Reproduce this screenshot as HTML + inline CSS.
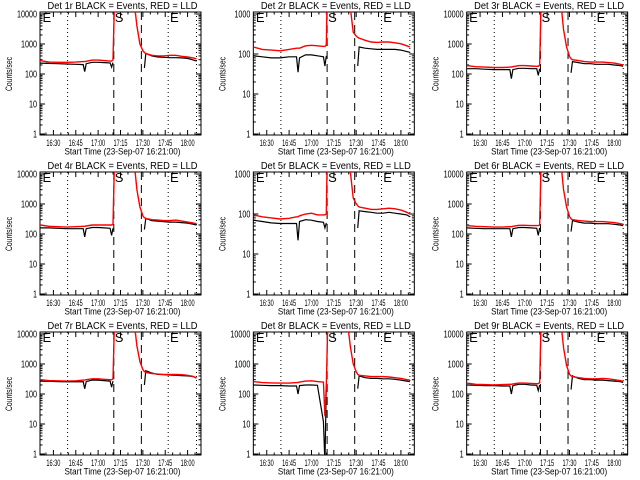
<!DOCTYPE html>
<html><head><meta charset="utf-8"><style>
html,body{margin:0;padding:0;background:#fff;}
svg{display:block;font-family:"Liberation Sans",sans-serif;}
</style></head><body>
<svg id="chart" width="640" height="480" viewBox="0 0 640 480" xmlns="http://www.w3.org/2000/svg"></svg>
<script>
// minutes after 16:00
const times = [21,27,33,39,45,50,51,52,56,60,64,68,69,70,71,80,84,86,88,90,91,92,96,100,104,108,112,116,120,124,126];
const detNames = ["1r","2r","3r","4r","5r","6r","7r","8r","9r"];
const yTopDecade = [4,3,4,4,3,4,4,4,4];
const N = null;
const black1 = [230,225,220,215,210,205,120,220,245,245,240,235,170,240,N,N,N,N,N,N,160,480,400,370,360,350,350,345,330,290,270];
const red1   = [280,250,245,245,250,260,260,265,290,290,280,270,270,300,30000,30000,30000,4000,1000,600,520,480,420,400,400,420,420,390,370,340,320];
const black2 = [90,85,80,80,85,85,35,80,95,95,90,85,50,90,N,N,N,N,N,N,50,150,140,135,130,130,130,130,125,115,110];
const red2   = [150,130,125,120,130,140,140,140,160,165,160,155,155,170,30000,30000,30000,1500,350,280,260,250,220,200,195,200,200,190,180,160,150];
const black3 = [150,150,145,140,140,140,70,140,155,155,150,150,90,150,N,N,N,N,N,N,110,260,240,220,220,210,210,210,200,190,180];
const red3   = [190,175,170,165,165,170,170,175,190,190,185,180,180,200,30000,30000,30000,3000,800,380,320,300,280,260,250,250,250,240,230,210,200];
const black4 = [160,160,155,150,150,150,80,150,165,165,160,155,90,155,N,N,N,N,N,N,140,330,280,270,260,250,250,240,230,210,200];
const red4   = [200,180,175,170,175,180,180,185,200,200,200,200,200,210,30000,30000,30000,3000,800,400,350,330,300,290,280,280,290,270,250,230,220];
const black5 = [70,65,60,58,58,58,22,65,72,70,65,62,45,60,N,N,N,N,N,N,45,120,115,110,105,105,110,105,100,95,85];
const red5   = [95,85,80,75,78,85,85,90,100,105,95,95,95,100,30000,30000,30000,1200,250,180,160,150,140,130,130,135,140,135,125,110,100];
const black6 = [160,155,150,150,150,150,80,150,165,165,160,155,90,160,N,N,N,N,N,N,120,280,250,230,230,220,220,220,210,200,190];
const red6   = [190,180,175,170,170,175,175,180,195,195,190,190,190,200,30000,30000,30000,3000,800,380,320,300,280,270,260,260,260,250,240,220,210];
const black7 = [270,265,260,255,255,260,150,260,290,290,280,270,170,270,N,N,N,N,N,N,200,600,500,450,440,430,420,410,400,380,340];
const red7   = [300,280,275,270,275,290,290,300,320,320,310,300,300,320,30000,30000,30000,4000,1200,650,560,520,480,460,450,450,450,440,420,380,340];
const black8 = [200,195,190,190,185,185,100,190,200,200,195,12,0.5,200,N,N,N,N,N,N,150,400,350,330,330,320,320,310,290,270,260];
const red8   = [260,240,235,230,230,240,240,250,270,275,260,250,18,200,30000,30000,30000,4000,1000,550,450,420,400,380,380,380,370,350,330,300,290];
const black9 = [200,195,190,190,185,185,100,190,210,210,200,195,130,200,N,N,N,N,N,N,140,400,330,300,300,290,290,280,270,260,240];
const red9   = [230,210,205,200,205,210,210,215,230,230,225,220,220,240,30000,30000,30000,3500,900,450,400,380,350,330,320,320,330,320,300,280,260];
const blackSeries = [black1,black2,black3,black4,black5,black6,black7,black8,black9];
const redSeries = [red1,red2,red3,red4,red5,red6,red7,red8,red9];
const xTickMinutes = [30,45,60,75,90,105,120];
const xTickLabels = ["16:30","16:45","17:00","17:15","17:30","17:45","18:00"];
const dottedTimes = [39.5,107,126];
const dashedTimes = [70.5,89];
const markerTimes = [22,70.5,107.5];
const markerLabels = ["E","S","E"];

const NS = "http://www.w3.org/2000/svg";
const svg = document.getElementById("chart");
function mk(tag, attrs, parent){ const e=document.createElementNS(NS,tag); for(const k in attrs) e.setAttribute(k,attrs[k]); (parent||svg).appendChild(e); return e; }

const L=40, R=201, T=12, B=135, yBot=134, yTop=14, tMin=21, tMax=129;

for(let p=0;p<9;p++){
  const col=p%3, row=Math.floor(p/3);
  const g = mk("g",{transform:`translate(${(col*213.33).toFixed(2)},${row*160})`});
  
  
  const dec = yTopDecade[p];
  const xs = t => L + (t - tMin)/(tMax - tMin)*(R-L);
  const ys = v => yBot - Math.log10(Math.max(v,1e-3))/dec*(yBot-yTop);
  const clipId = "clip"+p;
  const cp = mk("clipPath",{id:clipId},g); mk("rect",{x:L,y:T,width:R-L,height:B-T},cp);

  const title = mk("text",{x:(L+R)/2+2,y:9,"text-anchor":"middle","font-size":"10.5",textLength:"150",lengthAdjust:"spacingAndGlyphs"},g);
  title.textContent = "Det "+detNames[p]+" BLACK = Events, RED = LLD";
  
  

  const fr = mk("rect",{x:L,y:T,width:R-L,height:B-T,fill:"none",stroke:"#000","stroke-width":"1"},g);
  
  

  for(let d=0; d<=dec; d++){
    const y = ys(Math.pow(10,d));
    mk("line",{x1:L,x2:L+5,y1:y,y2:y,stroke:"#000"},g);
    mk("line",{x1:R-5,x2:R,y1:y,y2:y,stroke:"#000"},g);
    const txt = String(Math.pow(10,d));
    const lb = mk("text",{x:L-3,y:y+3.5,"text-anchor":"end","font-size":"10",textLength:String(txt.length*4),lengthAdjust:"spacingAndGlyphs"},g);
    lb.textContent = txt;
    
    
    if(d<dec){ for(let m=2;m<=9;m++){ const ym=ys(m*Math.pow(10,d));
      mk("line",{x1:L,x2:L+2.5,y1:ym,y2:ym,stroke:"#000"},g);
      mk("line",{x1:R-2.5,x2:R,y1:ym,y2:ym,stroke:"#000"},g);} }
  }
  const yt = mk("text",{x:0,y:0,"text-anchor":"middle","font-size":"9.5",textLength:"34",lengthAdjust:"spacingAndGlyphs",transform:`translate(12,74) rotate(-90)`},g);
  yt.textContent="Counts/sec";
  
  

  for(let t=25;t<=125;t+=5){ const x=xs(t); const major = xTickMinutes.indexOf(t)>=0; const len=major?5:2.5;
    mk("line",{x1:x,x2:x,y1:B,y2:B-len,stroke:"#000"},g);
    mk("line",{x1:x,x2:x,y1:T,y2:T+len,stroke:"#000"},g); }
  xTickMinutes.forEach((t,i)=>{ const lb=mk("text",{x:xs(t),y:146,"text-anchor":"middle","font-size":"9.5",textLength:"14",lengthAdjust:"spacingAndGlyphs"},g);
    lb.textContent=xTickLabels[i];
    
     });
  const xt = mk("text",{x:(L+R)/2+2,y:154.5,"text-anchor":"middle","font-size":"9.5",textLength:"116",lengthAdjust:"spacingAndGlyphs"},g);
  xt.textContent="Start Time (23-Sep-07 16:21:00)";
  
  

  dottedTimes.forEach(t=>{ const l=mk("line",{x1:xs(t),x2:xs(t),y1:T,y2:B,stroke:"#000","stroke-dasharray":"1,3"},g);
    
     });
  dashedTimes.forEach(t=>{ const l=mk("line",{x1:xs(t),x2:xs(t),y1:T,y2:B,stroke:"#000","stroke-dasharray":"8,5"},g);
    
     });
  markerLabels.forEach((s,i)=>{ const tx=mk("text",{x:xs(markerTimes[i])+1,y:22,"font-size":"13"},g);
    tx.textContent=s;
    
     });

  const cg = mk("g",{"clip-path":`url(#${clipId})`},g);
  [[blackSeries[p],"#000","black-events-line",1.2],[redSeries[p],"#f00","red-lld-line",1.4]].forEach(([vals,color,name,w])=>{
    let segs=[], cur=[];
    vals.forEach((v,i)=>{ if(v===null){ if(cur.length) segs.push(cur); cur=[]; } else cur.push(xs(times[i]).toFixed(1)+","+ys(v).toFixed(1)); });
    if(cur.length) segs.push(cur);
    segs.forEach(s=>{ const pl=mk("polyline",{points:s.join(" "),fill:"none",stroke:color,"stroke-width":String(w)},cg);
      
       });
  });
}
</script>
</body></html>
